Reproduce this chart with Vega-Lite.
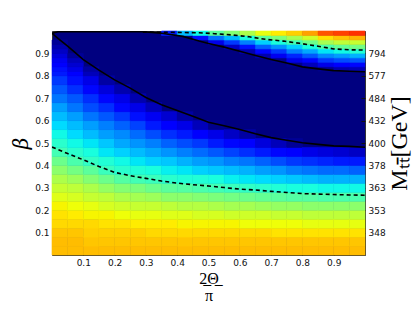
{
"$schema":"https://vega.github.io/schema/vega-lite/v6.json",
"width":313,"height":224,
"autosize":"none",
"padding":{"left":52,"top":31,"right":50,"bottom":57},
"background":"white",
"config":{
 "view":{"fill":"#000080","stroke":"#333","strokeWidth":1},
 "axis":{"labelFont":"DejaVu Sans","labelFontSize":9,"labelColor":"#111","tickColor":"#111","tickSize":-4,"tickWidth":1,"labelPadding":7,"labelOverlap":false,"labelFlush":false,"domain":false,"grid":false,"titleColor":"#000","titleFontWeight":"normal"}
},
"layer":[
{
"data":{"values":[
{"x":0,"x2":0.05,"y":0,"y2":0.04,"v":0.71},{"x":0,"x2":0.05,"y":0.04,"y2":0.08,"v":0.71},{"x":0,"x2":0.05,"y":0.08,"y2":0.12,"v":0.70},{"x":0,"x2":0.05,"y":0.12,"y2":0.16,"v":0.68},{"x":0,"x2":0.05,"y":0.16,"y2":0.2,"v":0.67},{"x":0,"x2":0.05,"y":0.2,"y2":0.24,"v":0.65},{"x":0,"x2":0.05,"y":0.24,"y2":0.28,"v":0.62},{"x":0,"x2":0.05,"y":0.28,"y2":0.32,"v":0.59},{"x":0,"x2":0.05,"y":0.32,"y2":0.36,"v":0.56},{"x":0,"x2":0.05,"y":0.36,"y2":0.4,"v":0.52},{"x":0,"x2":0.05,"y":0.4,"y2":0.44,"v":0.48},{"x":0,"x2":0.05,"y":0.44,"y2":0.48,"v":0.43},{"x":0,"x2":0.05,"y":0.48,"y2":0.52,"v":0.40},{"x":0,"x2":0.05,"y":0.52,"y2":0.56,"v":0.37},{"x":0,"x2":0.05,"y":0.56,"y2":0.6,"v":0.34},{"x":0,"x2":0.05,"y":0.6,"y2":0.64,"v":0.31},{"x":0,"x2":0.05,"y":0.64,"y2":0.68,"v":0.28},{"x":0,"x2":0.05,"y":0.68,"y2":0.72,"v":0.24},{"x":0,"x2":0.05,"y":0.72,"y2":0.76,"v":0.21},{"x":0,"x2":0.05,"y":0.76,"y2":0.8,"v":0.18},{"x":0,"x2":0.05,"y":0.8,"y2":0.82,"v":0.15},{"x":0,"x2":0.05,"y":0.82,"y2":0.84,"v":0.14},{"x":0,"x2":0.05,"y":0.84,"y2":0.86,"v":0.12},{"x":0,"x2":0.05,"y":0.86,"y2":0.88,"v":0.10},{"x":0,"x2":0.05,"y":0.88,"y2":0.9,"v":0.08},{"x":0,"x2":0.05,"y":0.9,"y2":0.92,"v":0.06},{"x":0,"x2":0.05,"y":0.92,"y2":0.94,"v":0.04},{"x":0,"x2":0.05,"y":0.94,"y2":0.96,"v":0.02},
{"x":0.05,"x2":0.1,"y":0,"y2":0.04,"v":0.71},{"x":0.05,"x2":0.1,"y":0.04,"y2":0.08,"v":0.71},{"x":0.05,"x2":0.1,"y":0.08,"y2":0.12,"v":0.70},{"x":0.05,"x2":0.1,"y":0.12,"y2":0.16,"v":0.68},{"x":0.05,"x2":0.1,"y":0.16,"y2":0.2,"v":0.66},{"x":0.05,"x2":0.1,"y":0.2,"y2":0.24,"v":0.64},{"x":0.05,"x2":0.1,"y":0.24,"y2":0.28,"v":0.61},{"x":0.05,"x2":0.1,"y":0.28,"y2":0.32,"v":0.58},{"x":0.05,"x2":0.1,"y":0.32,"y2":0.36,"v":0.54},{"x":0.05,"x2":0.1,"y":0.36,"y2":0.4,"v":0.49},{"x":0.05,"x2":0.1,"y":0.4,"y2":0.44,"v":0.44},{"x":0.05,"x2":0.1,"y":0.44,"y2":0.48,"v":0.40},{"x":0.05,"x2":0.1,"y":0.48,"y2":0.52,"v":0.37},{"x":0.05,"x2":0.1,"y":0.52,"y2":0.56,"v":0.34},{"x":0.05,"x2":0.1,"y":0.56,"y2":0.6,"v":0.31},{"x":0.05,"x2":0.1,"y":0.6,"y2":0.64,"v":0.28},{"x":0.05,"x2":0.1,"y":0.64,"y2":0.68,"v":0.24},{"x":0.05,"x2":0.1,"y":0.68,"y2":0.72,"v":0.21},{"x":0.05,"x2":0.1,"y":0.72,"y2":0.76,"v":0.17},{"x":0.05,"x2":0.1,"y":0.76,"y2":0.8,"v":0.14},{"x":0.05,"x2":0.1,"y":0.8,"y2":0.82,"v":0.11},{"x":0.05,"x2":0.1,"y":0.82,"y2":0.84,"v":0.09},{"x":0.05,"x2":0.1,"y":0.84,"y2":0.86,"v":0.07},{"x":0.05,"x2":0.1,"y":0.86,"y2":0.88,"v":0.05},{"x":0.05,"x2":0.1,"y":0.88,"y2":0.9,"v":0.02},
{"x":0.1,"x2":0.15,"y":0,"y2":0.04,"v":0.71},{"x":0.1,"x2":0.15,"y":0.04,"y2":0.08,"v":0.70},{"x":0.1,"x2":0.15,"y":0.08,"y2":0.12,"v":0.69},{"x":0.1,"x2":0.15,"y":0.12,"y2":0.16,"v":0.68},{"x":0.1,"x2":0.15,"y":0.16,"y2":0.2,"v":0.65},{"x":0.1,"x2":0.15,"y":0.2,"y2":0.24,"v":0.63},{"x":0.1,"x2":0.15,"y":0.24,"y2":0.28,"v":0.59},{"x":0.1,"x2":0.15,"y":0.28,"y2":0.32,"v":0.56},{"x":0.1,"x2":0.15,"y":0.32,"y2":0.36,"v":0.51},{"x":0.1,"x2":0.15,"y":0.36,"y2":0.4,"v":0.46},{"x":0.1,"x2":0.15,"y":0.4,"y2":0.44,"v":0.41},{"x":0.1,"x2":0.15,"y":0.44,"y2":0.48,"v":0.38},{"x":0.1,"x2":0.15,"y":0.48,"y2":0.52,"v":0.35},{"x":0.1,"x2":0.15,"y":0.52,"y2":0.56,"v":0.31},{"x":0.1,"x2":0.15,"y":0.56,"y2":0.6,"v":0.28},{"x":0.1,"x2":0.15,"y":0.6,"y2":0.64,"v":0.24},{"x":0.1,"x2":0.15,"y":0.64,"y2":0.68,"v":0.20},{"x":0.1,"x2":0.15,"y":0.68,"y2":0.72,"v":0.17},{"x":0.1,"x2":0.15,"y":0.72,"y2":0.76,"v":0.13},{"x":0.1,"x2":0.15,"y":0.76,"y2":0.8,"v":0.09},{"x":0.1,"x2":0.15,"y":0.8,"y2":0.82,"v":0.05},{"x":0.1,"x2":0.15,"y":0.82,"y2":0.84,"v":0.03},
{"x":0.15,"x2":0.2,"y":0,"y2":0.04,"v":0.71},{"x":0.15,"x2":0.2,"y":0.04,"y2":0.08,"v":0.70},{"x":0.15,"x2":0.2,"y":0.08,"y2":0.12,"v":0.69},{"x":0.15,"x2":0.2,"y":0.12,"y2":0.16,"v":0.67},{"x":0.15,"x2":0.2,"y":0.16,"y2":0.2,"v":0.65},{"x":0.15,"x2":0.2,"y":0.2,"y2":0.24,"v":0.61},{"x":0.15,"x2":0.2,"y":0.24,"y2":0.28,"v":0.58},{"x":0.15,"x2":0.2,"y":0.28,"y2":0.32,"v":0.53},{"x":0.15,"x2":0.2,"y":0.32,"y2":0.36,"v":0.48},{"x":0.15,"x2":0.2,"y":0.36,"y2":0.4,"v":0.42},{"x":0.15,"x2":0.2,"y":0.4,"y2":0.44,"v":0.39},{"x":0.15,"x2":0.2,"y":0.44,"y2":0.48,"v":0.35},{"x":0.15,"x2":0.2,"y":0.48,"y2":0.52,"v":0.32},{"x":0.15,"x2":0.2,"y":0.52,"y2":0.56,"v":0.28},{"x":0.15,"x2":0.2,"y":0.56,"y2":0.6,"v":0.25},{"x":0.15,"x2":0.2,"y":0.6,"y2":0.64,"v":0.21},{"x":0.15,"x2":0.2,"y":0.64,"y2":0.68,"v":0.17},{"x":0.15,"x2":0.2,"y":0.68,"y2":0.72,"v":0.13},{"x":0.15,"x2":0.2,"y":0.72,"y2":0.76,"v":0.08},{"x":0.15,"x2":0.2,"y":0.76,"y2":0.8,"v":0.03},
{"x":0.2,"x2":0.25,"y":0,"y2":0.04,"v":0.71},{"x":0.2,"x2":0.25,"y":0.04,"y2":0.08,"v":0.70},{"x":0.2,"x2":0.25,"y":0.08,"y2":0.12,"v":0.69},{"x":0.2,"x2":0.25,"y":0.12,"y2":0.16,"v":0.67},{"x":0.2,"x2":0.25,"y":0.16,"y2":0.2,"v":0.64},{"x":0.2,"x2":0.25,"y":0.2,"y2":0.24,"v":0.60},{"x":0.2,"x2":0.25,"y":0.24,"y2":0.28,"v":0.56},{"x":0.2,"x2":0.25,"y":0.28,"y2":0.32,"v":0.51},{"x":0.2,"x2":0.25,"y":0.32,"y2":0.36,"v":0.45},{"x":0.2,"x2":0.25,"y":0.36,"y2":0.4,"v":0.40},{"x":0.2,"x2":0.25,"y":0.4,"y2":0.44,"v":0.37},{"x":0.2,"x2":0.25,"y":0.44,"y2":0.48,"v":0.33},{"x":0.2,"x2":0.25,"y":0.48,"y2":0.52,"v":0.29},{"x":0.2,"x2":0.25,"y":0.52,"y2":0.56,"v":0.26},{"x":0.2,"x2":0.25,"y":0.56,"y2":0.6,"v":0.22},{"x":0.2,"x2":0.25,"y":0.6,"y2":0.64,"v":0.18},{"x":0.2,"x2":0.25,"y":0.64,"y2":0.68,"v":0.13},{"x":0.2,"x2":0.25,"y":0.68,"y2":0.72,"v":0.09},{"x":0.2,"x2":0.25,"y":0.72,"y2":0.76,"v":0.04},
{"x":0.25,"x2":0.3,"y":0,"y2":0.04,"v":0.71},{"x":0.25,"x2":0.3,"y":0.04,"y2":0.08,"v":0.70},{"x":0.25,"x2":0.3,"y":0.08,"y2":0.12,"v":0.69},{"x":0.25,"x2":0.3,"y":0.12,"y2":0.16,"v":0.66},{"x":0.25,"x2":0.3,"y":0.16,"y2":0.2,"v":0.63},{"x":0.25,"x2":0.3,"y":0.2,"y2":0.24,"v":0.59},{"x":0.25,"x2":0.3,"y":0.24,"y2":0.28,"v":0.55},{"x":0.25,"x2":0.3,"y":0.28,"y2":0.32,"v":0.50},{"x":0.25,"x2":0.3,"y":0.32,"y2":0.36,"v":0.43},{"x":0.25,"x2":0.3,"y":0.36,"y2":0.4,"v":0.39},{"x":0.25,"x2":0.3,"y":0.4,"y2":0.44,"v":0.35},{"x":0.25,"x2":0.3,"y":0.44,"y2":0.48,"v":0.31},{"x":0.25,"x2":0.3,"y":0.48,"y2":0.52,"v":0.27},{"x":0.25,"x2":0.3,"y":0.52,"y2":0.56,"v":0.23},{"x":0.25,"x2":0.3,"y":0.56,"y2":0.6,"v":0.19},{"x":0.25,"x2":0.3,"y":0.6,"y2":0.64,"v":0.14},{"x":0.25,"x2":0.3,"y":0.64,"y2":0.68,"v":0.09},{"x":0.25,"x2":0.3,"y":0.68,"y2":0.72,"v":0.04},
{"x":0.3,"x2":0.35,"y":0,"y2":0.04,"v":0.71},{"x":0.3,"x2":0.35,"y":0.04,"y2":0.08,"v":0.70},{"x":0.3,"x2":0.35,"y":0.08,"y2":0.12,"v":0.68},{"x":0.3,"x2":0.35,"y":0.12,"y2":0.16,"v":0.66},{"x":0.3,"x2":0.35,"y":0.16,"y2":0.2,"v":0.63},{"x":0.3,"x2":0.35,"y":0.2,"y2":0.24,"v":0.59},{"x":0.3,"x2":0.35,"y":0.24,"y2":0.28,"v":0.54},{"x":0.3,"x2":0.35,"y":0.28,"y2":0.32,"v":0.48},{"x":0.3,"x2":0.35,"y":0.32,"y2":0.36,"v":0.42},{"x":0.3,"x2":0.35,"y":0.36,"y2":0.4,"v":0.38},{"x":0.3,"x2":0.35,"y":0.4,"y2":0.44,"v":0.33},{"x":0.3,"x2":0.35,"y":0.44,"y2":0.48,"v":0.29},{"x":0.3,"x2":0.35,"y":0.48,"y2":0.52,"v":0.25},{"x":0.3,"x2":0.35,"y":0.52,"y2":0.56,"v":0.20},{"x":0.3,"x2":0.35,"y":0.56,"y2":0.6,"v":0.15},{"x":0.3,"x2":0.35,"y":0.6,"y2":0.64,"v":0.10},{"x":0.3,"x2":0.35,"y":0.64,"y2":0.68,"v":0.05},
{"x":0.35,"x2":0.4,"y":0,"y2":0.04,"v":0.71},{"x":0.35,"x2":0.4,"y":0.04,"y2":0.08,"v":0.70},{"x":0.35,"x2":0.4,"y":0.08,"y2":0.12,"v":0.68},{"x":0.35,"x2":0.4,"y":0.12,"y2":0.16,"v":0.66},{"x":0.35,"x2":0.4,"y":0.16,"y2":0.2,"v":0.62},{"x":0.35,"x2":0.4,"y":0.2,"y2":0.24,"v":0.58},{"x":0.35,"x2":0.4,"y":0.24,"y2":0.28,"v":0.52},{"x":0.35,"x2":0.4,"y":0.28,"y2":0.32,"v":0.46},{"x":0.35,"x2":0.4,"y":0.32,"y2":0.36,"v":0.40},{"x":0.35,"x2":0.4,"y":0.36,"y2":0.4,"v":0.36},{"x":0.35,"x2":0.4,"y":0.4,"y2":0.44,"v":0.32},{"x":0.35,"x2":0.4,"y":0.44,"y2":0.48,"v":0.27},{"x":0.35,"x2":0.4,"y":0.48,"y2":0.52,"v":0.22},{"x":0.35,"x2":0.4,"y":0.52,"y2":0.56,"v":0.17},{"x":0.35,"x2":0.4,"y":0.56,"y2":0.6,"v":0.12},{"x":0.35,"x2":0.4,"y":0.6,"y2":0.64,"v":0.07},{"x":0.35,"x2":0.4,"y":0.98,"y2":1,"v":0.15},
{"x":0.4,"x2":0.45,"y":0,"y2":0.04,"v":0.71},{"x":0.4,"x2":0.45,"y":0.04,"y2":0.08,"v":0.70},{"x":0.4,"x2":0.45,"y":0.08,"y2":0.12,"v":0.68},{"x":0.4,"x2":0.45,"y":0.12,"y2":0.16,"v":0.65},{"x":0.4,"x2":0.45,"y":0.16,"y2":0.2,"v":0.62},{"x":0.4,"x2":0.45,"y":0.2,"y2":0.24,"v":0.57},{"x":0.4,"x2":0.45,"y":0.24,"y2":0.28,"v":0.52},{"x":0.4,"x2":0.45,"y":0.28,"y2":0.32,"v":0.45},{"x":0.4,"x2":0.45,"y":0.32,"y2":0.36,"v":0.39},{"x":0.4,"x2":0.45,"y":0.36,"y2":0.4,"v":0.35},{"x":0.4,"x2":0.45,"y":0.4,"y2":0.44,"v":0.30},{"x":0.4,"x2":0.45,"y":0.44,"y2":0.48,"v":0.25},{"x":0.4,"x2":0.45,"y":0.48,"y2":0.52,"v":0.20},{"x":0.4,"x2":0.45,"y":0.52,"y2":0.56,"v":0.15},{"x":0.4,"x2":0.45,"y":0.56,"y2":0.6,"v":0.09},{"x":0.4,"x2":0.45,"y":0.6,"y2":0.64,"v":0.03},{"x":0.4,"x2":0.45,"y":0.98,"y2":1,"v":0.31},
{"x":0.45,"x2":0.5,"y":0,"y2":0.04,"v":0.71},{"x":0.45,"x2":0.5,"y":0.04,"y2":0.08,"v":0.70},{"x":0.45,"x2":0.5,"y":0.08,"y2":0.12,"v":0.68},{"x":0.45,"x2":0.5,"y":0.12,"y2":0.16,"v":0.65},{"x":0.45,"x2":0.5,"y":0.16,"y2":0.2,"v":0.61},{"x":0.45,"x2":0.5,"y":0.2,"y2":0.24,"v":0.57},{"x":0.45,"x2":0.5,"y":0.24,"y2":0.28,"v":0.51},{"x":0.45,"x2":0.5,"y":0.28,"y2":0.32,"v":0.44},{"x":0.45,"x2":0.5,"y":0.32,"y2":0.36,"v":0.39},{"x":0.45,"x2":0.5,"y":0.36,"y2":0.4,"v":0.33},{"x":0.45,"x2":0.5,"y":0.4,"y2":0.44,"v":0.28},{"x":0.45,"x2":0.5,"y":0.44,"y2":0.48,"v":0.23},{"x":0.45,"x2":0.5,"y":0.48,"y2":0.52,"v":0.18},{"x":0.45,"x2":0.5,"y":0.52,"y2":0.56,"v":0.12},{"x":0.45,"x2":0.5,"y":0.56,"y2":0.6,"v":0.05},{"x":0.45,"x2":0.5,"y":0.96,"y2":0.98,"v":0.14},{"x":0.45,"x2":0.5,"y":0.98,"y2":1,"v":0.37},
{"x":0.5,"x2":0.55,"y":0,"y2":0.04,"v":0.71},{"x":0.5,"x2":0.55,"y":0.04,"y2":0.08,"v":0.70},{"x":0.5,"x2":0.55,"y":0.08,"y2":0.12,"v":0.68},{"x":0.5,"x2":0.55,"y":0.12,"y2":0.16,"v":0.65},{"x":0.5,"x2":0.55,"y":0.16,"y2":0.2,"v":0.61},{"x":0.5,"x2":0.55,"y":0.2,"y2":0.24,"v":0.56},{"x":0.5,"x2":0.55,"y":0.24,"y2":0.28,"v":0.50},{"x":0.5,"x2":0.55,"y":0.28,"y2":0.32,"v":0.43},{"x":0.5,"x2":0.55,"y":0.32,"y2":0.36,"v":0.38},{"x":0.5,"x2":0.55,"y":0.36,"y2":0.4,"v":0.32},{"x":0.5,"x2":0.55,"y":0.4,"y2":0.44,"v":0.27},{"x":0.5,"x2":0.55,"y":0.44,"y2":0.48,"v":0.21},{"x":0.5,"x2":0.55,"y":0.48,"y2":0.52,"v":0.15},{"x":0.5,"x2":0.55,"y":0.52,"y2":0.56,"v":0.09},{"x":0.5,"x2":0.55,"y":0.56,"y2":0.6,"v":0.01},{"x":0.5,"x2":0.55,"y":0.94,"y2":0.96,"v":0.09},{"x":0.5,"x2":0.55,"y":0.96,"y2":0.98,"v":0.24},{"x":0.5,"x2":0.55,"y":0.98,"y2":1,"v":0.46},
{"x":0.55,"x2":0.6,"y":0,"y2":0.04,"v":0.71},{"x":0.55,"x2":0.6,"y":0.04,"y2":0.08,"v":0.70},{"x":0.55,"x2":0.6,"y":0.08,"y2":0.12,"v":0.68},{"x":0.55,"x2":0.6,"y":0.12,"y2":0.16,"v":0.65},{"x":0.55,"x2":0.6,"y":0.16,"y2":0.2,"v":0.60},{"x":0.55,"x2":0.6,"y":0.2,"y2":0.24,"v":0.55},{"x":0.55,"x2":0.6,"y":0.24,"y2":0.28,"v":0.49},{"x":0.55,"x2":0.6,"y":0.28,"y2":0.32,"v":0.42},{"x":0.55,"x2":0.6,"y":0.32,"y2":0.36,"v":0.36},{"x":0.55,"x2":0.6,"y":0.36,"y2":0.4,"v":0.31},{"x":0.55,"x2":0.6,"y":0.4,"y2":0.44,"v":0.25},{"x":0.55,"x2":0.6,"y":0.44,"y2":0.48,"v":0.19},{"x":0.55,"x2":0.6,"y":0.48,"y2":0.52,"v":0.13},{"x":0.55,"x2":0.6,"y":0.52,"y2":0.56,"v":0.06},{"x":0.55,"x2":0.6,"y":0.92,"y2":0.94,"v":0.06},{"x":0.55,"x2":0.6,"y":0.94,"y2":0.96,"v":0.18},{"x":0.55,"x2":0.6,"y":0.96,"y2":0.98,"v":0.31},{"x":0.55,"x2":0.6,"y":0.98,"y2":1,"v":0.51},
{"x":0.6,"x2":0.65,"y":0,"y2":0.04,"v":0.71},{"x":0.6,"x2":0.65,"y":0.04,"y2":0.08,"v":0.70},{"x":0.6,"x2":0.65,"y":0.08,"y2":0.12,"v":0.68},{"x":0.6,"x2":0.65,"y":0.12,"y2":0.16,"v":0.64},{"x":0.6,"x2":0.65,"y":0.16,"y2":0.2,"v":0.60},{"x":0.6,"x2":0.65,"y":0.2,"y2":0.24,"v":0.55},{"x":0.6,"x2":0.65,"y":0.24,"y2":0.28,"v":0.48},{"x":0.6,"x2":0.65,"y":0.28,"y2":0.32,"v":0.41},{"x":0.6,"x2":0.65,"y":0.32,"y2":0.36,"v":0.35},{"x":0.6,"x2":0.65,"y":0.36,"y2":0.4,"v":0.30},{"x":0.6,"x2":0.65,"y":0.4,"y2":0.44,"v":0.24},{"x":0.6,"x2":0.65,"y":0.44,"y2":0.48,"v":0.17},{"x":0.6,"x2":0.65,"y":0.48,"y2":0.52,"v":0.11},{"x":0.6,"x2":0.65,"y":0.52,"y2":0.56,"v":0.03},{"x":0.6,"x2":0.65,"y":0.9,"y2":0.92,"v":0.04},{"x":0.6,"x2":0.65,"y":0.92,"y2":0.94,"v":0.14},{"x":0.6,"x2":0.65,"y":0.94,"y2":0.96,"v":0.25},{"x":0.6,"x2":0.65,"y":0.96,"y2":0.98,"v":0.38},{"x":0.6,"x2":0.65,"y":0.98,"y2":1,"v":0.56},
{"x":0.65,"x2":0.7,"y":0,"y2":0.04,"v":0.71},{"x":0.65,"x2":0.7,"y":0.04,"y2":0.08,"v":0.70},{"x":0.65,"x2":0.7,"y":0.08,"y2":0.12,"v":0.68},{"x":0.65,"x2":0.7,"y":0.12,"y2":0.16,"v":0.64},{"x":0.65,"x2":0.7,"y":0.16,"y2":0.2,"v":0.60},{"x":0.65,"x2":0.7,"y":0.2,"y2":0.24,"v":0.54},{"x":0.65,"x2":0.7,"y":0.24,"y2":0.28,"v":0.47},{"x":0.65,"x2":0.7,"y":0.28,"y2":0.32,"v":0.40},{"x":0.65,"x2":0.7,"y":0.32,"y2":0.36,"v":0.34},{"x":0.65,"x2":0.7,"y":0.36,"y2":0.4,"v":0.28},{"x":0.65,"x2":0.7,"y":0.4,"y2":0.44,"v":0.22},{"x":0.65,"x2":0.7,"y":0.44,"y2":0.48,"v":0.15},{"x":0.65,"x2":0.7,"y":0.48,"y2":0.52,"v":0.08},{"x":0.65,"x2":0.7,"y":0.88,"y2":0.9,"v":0.04},{"x":0.65,"x2":0.7,"y":0.9,"y2":0.92,"v":0.13},{"x":0.65,"x2":0.7,"y":0.92,"y2":0.94,"v":0.22},{"x":0.65,"x2":0.7,"y":0.94,"y2":0.96,"v":0.33},{"x":0.65,"x2":0.7,"y":0.96,"y2":0.98,"v":0.46},{"x":0.65,"x2":0.7,"y":0.98,"y2":1,"v":0.63},
{"x":0.7,"x2":0.75,"y":0,"y2":0.04,"v":0.71},{"x":0.7,"x2":0.75,"y":0.04,"y2":0.08,"v":0.70},{"x":0.7,"x2":0.75,"y":0.08,"y2":0.12,"v":0.67},{"x":0.7,"x2":0.75,"y":0.12,"y2":0.16,"v":0.64},{"x":0.7,"x2":0.75,"y":0.16,"y2":0.2,"v":0.59},{"x":0.7,"x2":0.75,"y":0.2,"y2":0.24,"v":0.53},{"x":0.7,"x2":0.75,"y":0.24,"y2":0.28,"v":0.46},{"x":0.7,"x2":0.75,"y":0.28,"y2":0.32,"v":0.39},{"x":0.7,"x2":0.75,"y":0.32,"y2":0.36,"v":0.33},{"x":0.7,"x2":0.75,"y":0.36,"y2":0.4,"v":0.27},{"x":0.7,"x2":0.75,"y":0.4,"y2":0.44,"v":0.20},{"x":0.7,"x2":0.75,"y":0.44,"y2":0.48,"v":0.13},{"x":0.7,"x2":0.75,"y":0.48,"y2":0.52,"v":0.05},{"x":0.7,"x2":0.75,"y":0.86,"y2":0.88,"v":0.01},{"x":0.7,"x2":0.75,"y":0.88,"y2":0.9,"v":0.10},{"x":0.7,"x2":0.75,"y":0.9,"y2":0.92,"v":0.18},{"x":0.7,"x2":0.75,"y":0.92,"y2":0.94,"v":0.27},{"x":0.7,"x2":0.75,"y":0.94,"y2":0.96,"v":0.38},{"x":0.7,"x2":0.75,"y":0.96,"y2":0.98,"v":0.50},{"x":0.7,"x2":0.75,"y":0.98,"y2":1,"v":0.66},
{"x":0.75,"x2":0.8,"y":0,"y2":0.04,"v":0.71},{"x":0.75,"x2":0.8,"y":0.04,"y2":0.08,"v":0.70},{"x":0.75,"x2":0.8,"y":0.08,"y2":0.12,"v":0.67},{"x":0.75,"x2":0.8,"y":0.12,"y2":0.16,"v":0.64},{"x":0.75,"x2":0.8,"y":0.16,"y2":0.2,"v":0.59},{"x":0.75,"x2":0.8,"y":0.2,"y2":0.24,"v":0.53},{"x":0.75,"x2":0.8,"y":0.24,"y2":0.28,"v":0.45},{"x":0.75,"x2":0.8,"y":0.28,"y2":0.32,"v":0.38},{"x":0.75,"x2":0.8,"y":0.32,"y2":0.36,"v":0.32},{"x":0.75,"x2":0.8,"y":0.36,"y2":0.4,"v":0.25},{"x":0.75,"x2":0.8,"y":0.4,"y2":0.44,"v":0.18},{"x":0.75,"x2":0.8,"y":0.44,"y2":0.48,"v":0.11},{"x":0.75,"x2":0.8,"y":0.48,"y2":0.52,"v":0.02},{"x":0.75,"x2":0.8,"y":0.84,"y2":0.86,"v":0.01},{"x":0.75,"x2":0.8,"y":0.86,"y2":0.88,"v":0.09},{"x":0.75,"x2":0.8,"y":0.88,"y2":0.9,"v":0.16},{"x":0.75,"x2":0.8,"y":0.9,"y2":0.92,"v":0.25},{"x":0.75,"x2":0.8,"y":0.92,"y2":0.94,"v":0.33},{"x":0.75,"x2":0.8,"y":0.94,"y2":0.96,"v":0.43},{"x":0.75,"x2":0.8,"y":0.96,"y2":0.98,"v":0.55},{"x":0.75,"x2":0.8,"y":0.98,"y2":1,"v":0.69},
{"x":0.8,"x2":0.85,"y":0,"y2":0.04,"v":0.71},{"x":0.8,"x2":0.85,"y":0.04,"y2":0.08,"v":0.70},{"x":0.8,"x2":0.85,"y":0.08,"y2":0.12,"v":0.67},{"x":0.8,"x2":0.85,"y":0.12,"y2":0.16,"v":0.63},{"x":0.8,"x2":0.85,"y":0.16,"y2":0.2,"v":0.58},{"x":0.8,"x2":0.85,"y":0.2,"y2":0.24,"v":0.52},{"x":0.8,"x2":0.85,"y":0.24,"y2":0.28,"v":0.45},{"x":0.8,"x2":0.85,"y":0.28,"y2":0.32,"v":0.38},{"x":0.8,"x2":0.85,"y":0.32,"y2":0.36,"v":0.31},{"x":0.8,"x2":0.85,"y":0.36,"y2":0.4,"v":0.24},{"x":0.8,"x2":0.85,"y":0.4,"y2":0.44,"v":0.17},{"x":0.8,"x2":0.85,"y":0.44,"y2":0.48,"v":0.09},{"x":0.8,"x2":0.85,"y":0.84,"y2":0.86,"v":0.05},{"x":0.8,"x2":0.85,"y":0.86,"y2":0.88,"v":0.13},{"x":0.8,"x2":0.85,"y":0.88,"y2":0.9,"v":0.21},{"x":0.8,"x2":0.85,"y":0.9,"y2":0.92,"v":0.29},{"x":0.8,"x2":0.85,"y":0.92,"y2":0.94,"v":0.38},{"x":0.8,"x2":0.85,"y":0.94,"y2":0.96,"v":0.48},{"x":0.8,"x2":0.85,"y":0.96,"y2":0.98,"v":0.60},{"x":0.8,"x2":0.85,"y":0.98,"y2":1,"v":0.74},
{"x":0.85,"x2":0.9,"y":0,"y2":0.04,"v":0.71},{"x":0.85,"x2":0.9,"y":0.04,"y2":0.08,"v":0.70},{"x":0.85,"x2":0.9,"y":0.08,"y2":0.12,"v":0.67},{"x":0.85,"x2":0.9,"y":0.12,"y2":0.16,"v":0.63},{"x":0.85,"x2":0.9,"y":0.16,"y2":0.2,"v":0.58},{"x":0.85,"x2":0.9,"y":0.2,"y2":0.24,"v":0.52},{"x":0.85,"x2":0.9,"y":0.24,"y2":0.28,"v":0.44},{"x":0.85,"x2":0.9,"y":0.28,"y2":0.32,"v":0.37},{"x":0.85,"x2":0.9,"y":0.32,"y2":0.36,"v":0.30},{"x":0.85,"x2":0.9,"y":0.36,"y2":0.4,"v":0.23},{"x":0.85,"x2":0.9,"y":0.4,"y2":0.44,"v":0.16},{"x":0.85,"x2":0.9,"y":0.44,"y2":0.48,"v":0.08},{"x":0.85,"x2":0.9,"y":0.82,"y2":0.84,"v":0.01},{"x":0.85,"x2":0.9,"y":0.84,"y2":0.86,"v":0.09},{"x":0.85,"x2":0.9,"y":0.86,"y2":0.88,"v":0.18},{"x":0.85,"x2":0.9,"y":0.88,"y2":0.9,"v":0.26},{"x":0.85,"x2":0.9,"y":0.9,"y2":0.92,"v":0.35},{"x":0.85,"x2":0.9,"y":0.92,"y2":0.94,"v":0.44},{"x":0.85,"x2":0.9,"y":0.94,"y2":0.96,"v":0.55},{"x":0.85,"x2":0.9,"y":0.96,"y2":0.98,"v":0.67},{"x":0.85,"x2":0.9,"y":0.98,"y2":1,"v":0.82},
{"x":0.9,"x2":0.95,"y":0,"y2":0.04,"v":0.71},{"x":0.9,"x2":0.95,"y":0.04,"y2":0.08,"v":0.70},{"x":0.9,"x2":0.95,"y":0.08,"y2":0.12,"v":0.67},{"x":0.9,"x2":0.95,"y":0.12,"y2":0.16,"v":0.63},{"x":0.9,"x2":0.95,"y":0.16,"y2":0.2,"v":0.58},{"x":0.9,"x2":0.95,"y":0.2,"y2":0.24,"v":0.52},{"x":0.9,"x2":0.95,"y":0.24,"y2":0.28,"v":0.44},{"x":0.9,"x2":0.95,"y":0.28,"y2":0.32,"v":0.37},{"x":0.9,"x2":0.95,"y":0.32,"y2":0.36,"v":0.30},{"x":0.9,"x2":0.95,"y":0.36,"y2":0.4,"v":0.23},{"x":0.9,"x2":0.95,"y":0.4,"y2":0.44,"v":0.15},{"x":0.9,"x2":0.95,"y":0.44,"y2":0.48,"v":0.07},{"x":0.9,"x2":0.95,"y":0.82,"y2":0.84,"v":0.04},{"x":0.9,"x2":0.95,"y":0.84,"y2":0.86,"v":0.12},{"x":0.9,"x2":0.95,"y":0.86,"y2":0.88,"v":0.20},{"x":0.9,"x2":0.95,"y":0.88,"y2":0.9,"v":0.28},{"x":0.9,"x2":0.95,"y":0.9,"y2":0.92,"v":0.37},{"x":0.9,"x2":0.95,"y":0.92,"y2":0.94,"v":0.47},{"x":0.9,"x2":0.95,"y":0.94,"y2":0.96,"v":0.58},{"x":0.9,"x2":0.95,"y":0.96,"y2":0.98,"v":0.70},{"x":0.9,"x2":0.95,"y":0.98,"y2":1,"v":0.84},
{"x":0.95,"x2":1,"y":0,"y2":0.04,"v":0.71},{"x":0.95,"x2":1,"y":0.04,"y2":0.08,"v":0.70},{"x":0.95,"x2":1,"y":0.08,"y2":0.12,"v":0.67},{"x":0.95,"x2":1,"y":0.12,"y2":0.16,"v":0.63},{"x":0.95,"x2":1,"y":0.16,"y2":0.2,"v":0.58},{"x":0.95,"x2":1,"y":0.2,"y2":0.24,"v":0.52},{"x":0.95,"x2":1,"y":0.24,"y2":0.28,"v":0.44},{"x":0.95,"x2":1,"y":0.28,"y2":0.32,"v":0.37},{"x":0.95,"x2":1,"y":0.32,"y2":0.36,"v":0.30},{"x":0.95,"x2":1,"y":0.36,"y2":0.4,"v":0.22},{"x":0.95,"x2":1,"y":0.4,"y2":0.44,"v":0.15},{"x":0.95,"x2":1,"y":0.44,"y2":0.48,"v":0.06},{"x":0.95,"x2":1,"y":0.82,"y2":0.84,"v":0.05},{"x":0.95,"x2":1,"y":0.84,"y2":0.86,"v":0.13},{"x":0.95,"x2":1,"y":0.86,"y2":0.88,"v":0.21},{"x":0.95,"x2":1,"y":0.88,"y2":0.9,"v":0.30},{"x":0.95,"x2":1,"y":0.9,"y2":0.92,"v":0.39},{"x":0.95,"x2":1,"y":0.92,"y2":0.94,"v":0.49},{"x":0.95,"x2":1,"y":0.94,"y2":0.96,"v":0.59},{"x":0.95,"x2":1,"y":0.96,"y2":0.98,"v":0.72},{"x":0.95,"x2":1,"y":0.98,"y2":1,"v":0.86}
]},
"mark":{"type":"rect","strokeWidth":0.6},
"encoding":{
 "x":{"field":"x","type":"quantitative","scale":{"domain":[0,1],"nice":false,"zero":false},
  "axis":{"values":[0.1,0.2,0.3,0.4,0.5,0.6,0.7,0.8,0.9],"format":".1f","labelOverlap":false,"title":["2\u0332\u0398\u0332","\u03c0"],"titleFont":"Liberation Serif","titleFontSize":16,"titleLineHeight":17,"titlePadding":3}},
 "x2":{"field":"x2"},
 "y":{"field":"y","type":"quantitative","scale":{"domain":[0,1],"nice":false,"zero":false},
  "axis":{"orient":"left","values":[0.1,0.2,0.3,0.4,0.5,0.6,0.7,0.8,0.9],"format":".1f","labelOverlap":false,"title":"β","titleFont":"DejaVu Serif","titleFontStyle":"italic","titleFontSize":20,"titlePadding":3}},
 "y2":{"field":"y2"},
 "color":{"field":"v","type":"quantitative","legend":null,"scale":{"type":"linear","domain":[0,0.11,0.125,0.34,0.35,0.375,0.64,0.65,0.66,0.89,0.91,1],"range":["#000080","#0000ff","#0000ff","#00dbff","#00e6f7","#15ffe2","#efff08","#f7f500","#ffec00","#ff1300","#e80000","#800000"],"interpolate":"rgb","clamp":true}},
 "stroke":{"field":"v","type":"quantitative","legend":null,"scale":{"type":"linear","domain":[0,0.11,0.125,0.34,0.35,0.375,0.64,0.65,0.66,0.89,0.91,1],"range":["#000080","#0000ff","#0000ff","#00dbff","#00e6f7","#15ffe2","#efff08","#f7f500","#ffec00","#ff1300","#e80000","#800000"],"interpolate":"rgb","clamp":true}}
}
},
{
"data":{"values":[
{"o":1,"x":1,"b":0.481},{"o":2,"x":0.95,"b":0.485},{"o":3,"x":0.9,"b":0.487},{"o":4,"x":0.85,"b":0.494},{"o":5,"x":0.8,"b":0.501},{"o":6,"x":0.75,"b":0.512},{"o":7,"x":0.7,"b":0.524},{"o":8,"x":0.65,"b":0.541},{"o":9,"x":0.6,"b":0.56},{"o":10,"x":0.55,"b":0.577},{"o":11,"x":0.5,"b":0.593},{"o":12,"x":0.45,"b":0.619},{"o":13,"x":0.4,"b":0.645},{"o":14,"x":0.35,"b":0.671},{"o":15,"x":0.3,"b":0.703},{"o":16,"x":0.25,"b":0.745},{"o":17,"x":0.2,"b":0.782},{"o":18,"x":0.15,"b":0.825},{"o":19,"x":0.1,"b":0.872},{"o":20,"x":0.05,"b":0.932},{"o":21,"x":0.02,"b":0.966},{"o":22,"x":0,"b":0.99},{"o":23,"x":0.02,"b":0.997},{"o":24,"x":0.29,"b":0.997},{"o":25,"x":0.35,"b":0.99},{"o":26,"x":0.418,"b":0.976},{"o":27,"x":0.47,"b":0.955},{"o":28,"x":0.5,"b":0.944},{"o":29,"x":0.55,"b":0.928},{"o":30,"x":0.6,"b":0.91},{"o":31,"x":0.65,"b":0.891},{"o":32,"x":0.7,"b":0.873},{"o":33,"x":0.75,"b":0.857},{"o":34,"x":0.8,"b":0.84},{"o":35,"x":0.85,"b":0.831},{"o":36,"x":0.9,"b":0.823},{"o":37,"x":0.95,"b":0.82},{"o":38,"x":1,"b":0.818}
]},
"mark":{"type":"line","color":"#000","strokeWidth":1.6,"clip":true},
"encoding":{
 "x":{"field":"x","type":"quantitative","axis":{"values":[0.1,0.2,0.3,0.4,0.5,0.6,0.7,0.8,0.9],"format":".1f","labelOverlap":false,"title":["2\u0332\u0398\u0332","\u03c0"],"titleFont":"Liberation Serif","titleFontSize":16,"titleLineHeight":17,"titlePadding":3}},
 "y":{"field":"b","type":"quantitative","scale":{"domain":[0,1],"nice":false,"zero":false},"axis":null},
 "order":{"field":"o","type":"quantitative"}
}
},
{
"data":{"values":[
{"o":1,"x":0,"b":0.482},{"o":2,"x":0.05,"b":0.453},{"o":3,"x":0.1,"b":0.425},{"o":4,"x":0.15,"b":0.395},{"o":5,"x":0.2,"b":0.369},{"o":6,"x":0.25,"b":0.354},{"o":7,"x":0.3,"b":0.342},{"o":8,"x":0.35,"b":0.33},{"o":9,"x":0.4,"b":0.321},{"o":10,"x":0.45,"b":0.314},{"o":11,"x":0.5,"b":0.308},{"o":12,"x":0.55,"b":0.301},{"o":13,"x":0.6,"b":0.294},{"o":14,"x":0.65,"b":0.29},{"o":15,"x":0.7,"b":0.284},{"o":16,"x":0.75,"b":0.279},{"o":17,"x":0.8,"b":0.274},{"o":18,"x":0.85,"b":0.272},{"o":19,"x":0.9,"b":0.27},{"o":20,"x":0.95,"b":0.268},{"o":21,"x":1,"b":0.267}
]},
"mark":{"type":"line","color":"#000","strokeWidth":1.6,"strokeDash":[4,3],"clip":true},
"encoding":{
 "x":{"field":"x","type":"quantitative","axis":{"values":[0.1,0.2,0.3,0.4,0.5,0.6,0.7,0.8,0.9],"format":".1f","labelOverlap":false,"title":["2\u0332\u0398\u0332","\u03c0"],"titleFont":"Liberation Serif","titleFontSize":16,"titleLineHeight":17,"titlePadding":3}},
 "y":{"field":"b","type":"quantitative","scale":{"domain":[0,1],"nice":false,"zero":false},"axis":null},
 "order":{"field":"o","type":"quantitative"}
}
},
{
"data":{"values":[
{"o":1,"x":0.29,"b":0.995},{"o":2,"x":0.4,"b":0.994},{"o":3,"x":0.47,"b":0.992},{"o":4,"x":0.52,"b":0.988},{"o":5,"x":0.578,"b":0.982},{"o":6,"x":0.63,"b":0.974},{"o":7,"x":0.686,"b":0.962},{"o":8,"x":0.74,"b":0.955},{"o":9,"x":0.791,"b":0.945},{"o":10,"x":0.85,"b":0.932},{"o":11,"x":0.9,"b":0.92},{"o":12,"x":0.95,"b":0.916},{"o":13,"x":1,"b":0.915}
]},
"mark":{"type":"line","color":"#000","strokeWidth":1.6,"strokeDash":[4,3],"clip":true},
"encoding":{
 "x":{"field":"x","type":"quantitative","axis":{"values":[0.1,0.2,0.3,0.4,0.5,0.6,0.7,0.8,0.9],"format":".1f","labelOverlap":false,"title":["2\u0332\u0398\u0332","\u03c0"],"titleFont":"Liberation Serif","titleFontSize":16,"titleLineHeight":17,"titlePadding":3}},
 "y":{"field":"b","type":"quantitative","scale":{"domain":[0,1],"nice":false,"zero":false},
  "axis":{"orient":"right","values":[0.1,0.2,0.3,0.4,0.5,0.6,0.7,0.8,0.9],"labelOverlap":false,"labelExpr":"['','348','353','363','378','400','432','484','577','794'][round(datum.value*10)]","title":"Mₜₜ̄[GeV]","titleFont":"Liberation Serif","titleFontSize":24,"titleAngle":270,"titleBaseline":"top","titlePadding":2}},
 "order":{"field":"o","type":"quantitative"}
}
}
],
"resolve":{"scale":{"y":"independent"},"axis":{"y":"independent"}}
}
